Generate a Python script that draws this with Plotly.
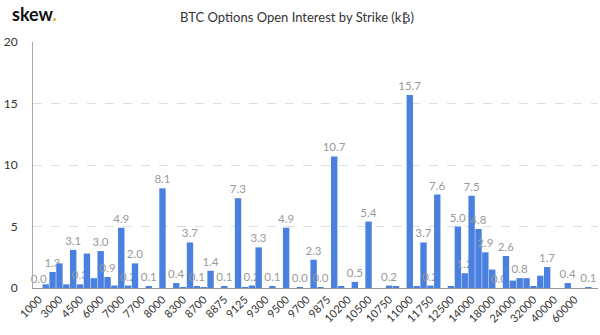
import plotly.graph_objects as go

strikes = ["1000", "2000", "2500", "3000", "3500", "4000", "4500", "5000", "5500", "6000",
           "6250", "6500", "7000", "7250", "7500", "7700", "7750", "7900", "8000", "8100",
           "8200", "8300", "8500", "8600", "8700", "8750", "8800", "8875", "8900", "9000",
           "9125", "9200", "9250", "9300", "9375", "9400", "9500", "9600", "9625", "9700",
           "9750", "9800", "9875", "10000", "10100", "10200", "10250", "10400", "10500", "10600",
           "10700", "10750", "10800", "10900", "11000", "11250", "11500", "11750", "12000", "12250",
           "12500", "13000", "13500", "14000", "15000", "16000", "18000", "19000", "20000", "24000",
           "25000", "28000", "32000", "34000", "36000", "40000", "45000", "50000", "60000", "70000",
           "80000"]

open_interest = [0.0, 0.3, 1.3, 2.0, 0.3, 3.1, 0.3, 2.8, 0.8, 3.0,
                 0.9, 0.2, 4.9, 0.2, 2.0, 0.0, 0.1, 0.0, 8.1, 0.0,
                 0.4, 0.03, 3.7, 0.1, 0.02, 1.4, 0.0, 0.1, 0.0, 7.3,
                 0.03, 0.2, 3.3, 0.0, 0.1, 0.0, 4.9, 0.0, 0.02, 0.0,
                 2.3, 0.02, 0.0, 10.7, 0.1, 0.0, 0.5, 0.0, 5.4, 0.0,
                 0.0, 0.2, 0.1, 0.0, 15.7, 0.1, 3.7, 0.2, 7.6, 0.0,
                 0.1, 5.0, 1.2, 7.5, 4.8, 2.9, 1.5, 0.0, 2.6, 0.6,
                 0.8, 0.8, 0.1, 1.0, 1.7, 0.0, 0.0, 0.4, 0.0, 0.0,
                 0.05]

labelled = [0, 2, 5, 6, 9, 10, 12, 13, 14, 16, 18, 20, 22, 23, 25, 27, 29, 31, 32, 34,
            36, 38, 40, 41, 43, 46, 48, 51, 54, 56, 57, 58, 61, 62, 63, 64, 65, 67, 68, 70,
            74, 77, 80]

tick_every = 3

texts = [f"{v:.1f}" if i in labelled else "" for i, v in enumerate(open_interest)]
tickvals = strikes[::tick_every]

fig = go.Figure()
fig.add_trace(go.Bar(
    x=strikes, y=open_interest, text=texts,
    textposition="outside", constraintext="none", cliponaxis=False,
    textfont=dict(family="Lato", size=11.5, color="#9a9a9a"),
    marker=dict(color="#4a80df", line=dict(width=0)),
    hoverinfo="x+y",
))

fig.update_layout(
    width=600, height=335,
    margin=dict(l=33, r=2, t=42, b=47),
    paper_bgcolor="white", plot_bgcolor="white",
    bargap=0.07,
    showlegend=False,
    font=dict(family="Lato", color="#333"),
    title=dict(text="BTC Options Open Interest by Strike (k\u20bf)",
               x=0.495, xanchor="center", y=0.947, yanchor="middle",
               font=dict(family="Lato", size=13, color="#333")),
    annotations=[dict(text="<b>skew</b><b><span style='color:#f2a71b'>.</span></b>",
                      xref="paper", yref="paper", x=-0.04, y=1.112,
                      xanchor="left", yanchor="middle", showarrow=False,
                      font=dict(family="Lato", size=18, color="#111"))],
)
fig.update_xaxes(
    type="category", range=[-0.85, 81.4],
    tickmode="array", tickvals=tickvals, ticktext=tickvals,
    tickangle=-45, tickfont=dict(family="Lato", size=11, color="#333"),
    showgrid=False, showline=True, linecolor="#999", linewidth=1,
    ticks="",
)
fig.update_yaxes(
    range=[0, 20], tickvals=[0, 5, 10, 15, 20],
    tickfont=dict(family="Lato", size=12, color="#333"),
    showgrid=True, gridcolor="#dedede", griddash="dash", gridwidth=1,
    zeroline=False, showline=True, linecolor="#aaa", linewidth=1,
    ticklabelstandoff=12,
)

fig.write_html("out.html")
